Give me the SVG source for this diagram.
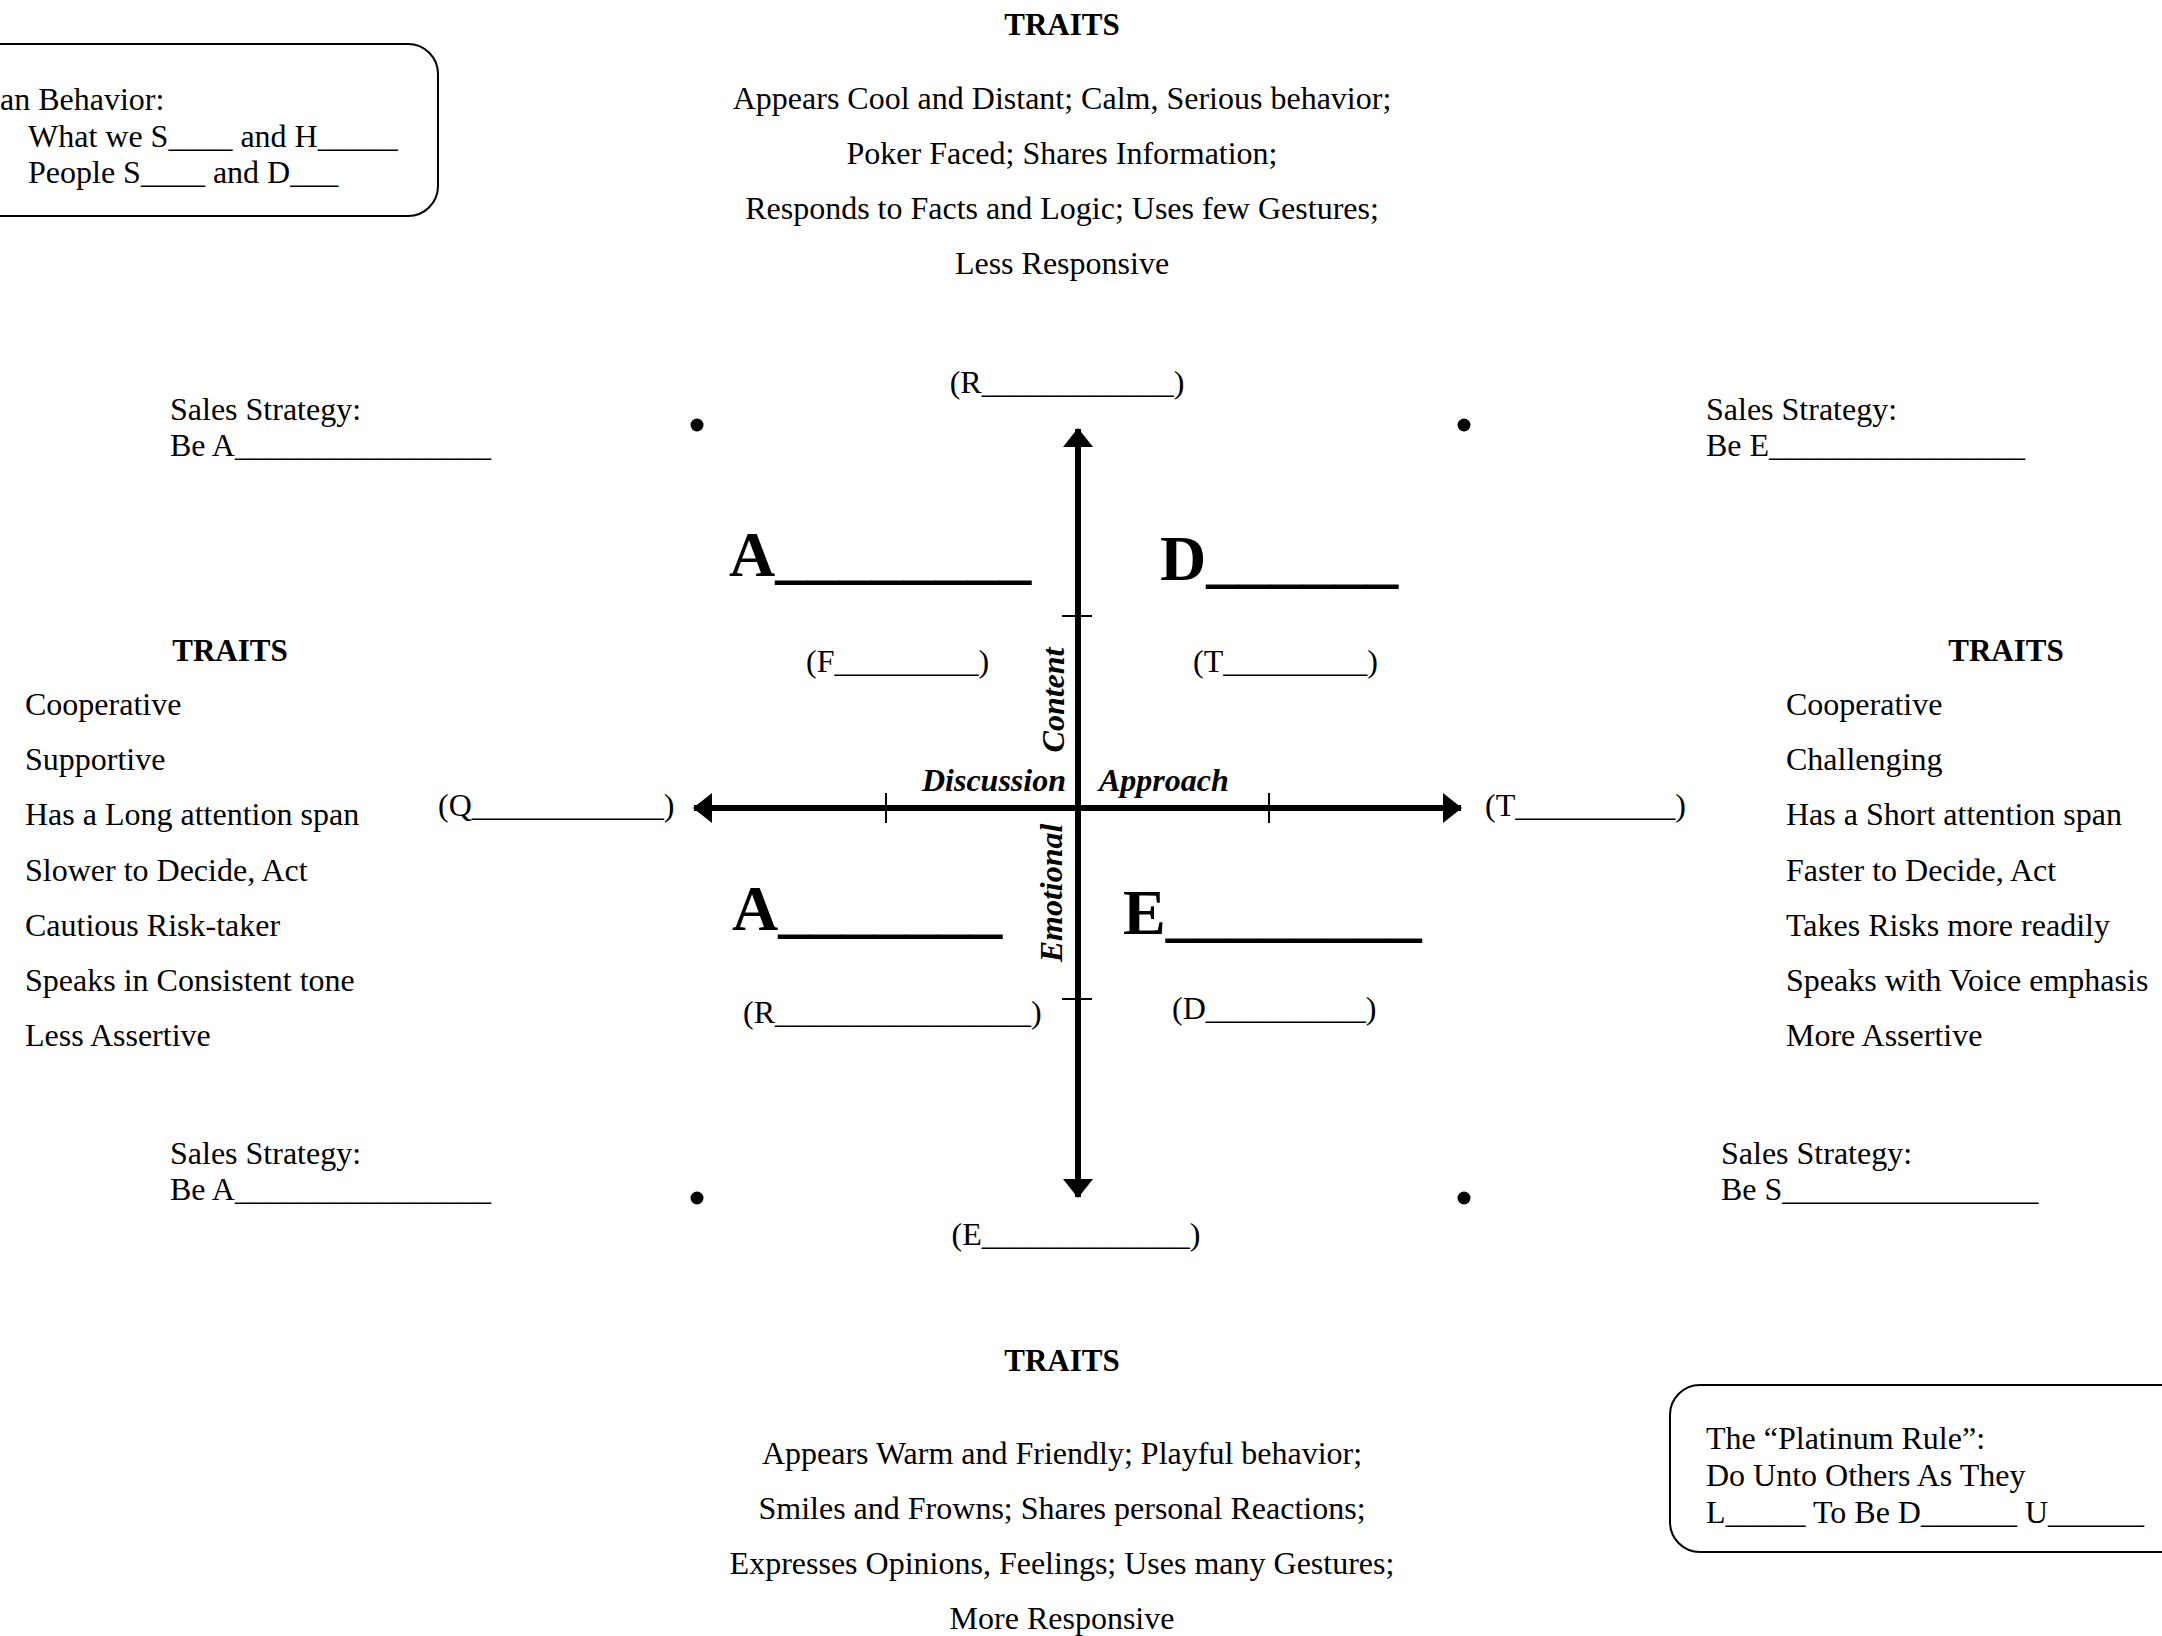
<svg xmlns="http://www.w3.org/2000/svg" width="2162" height="1636" viewBox="0 0 2162 1636">
<defs>
<style>
text{font-family:"Liberation Serif","Times New Roman",serif;fill:#000;}
.t{font-size:32px;}
.h{font-size:31px;font-weight:bold;}
.big{font-size:64px;font-weight:bold;}
.ax{font-size:32px;font-weight:bold;font-style:italic;}
.c{text-anchor:middle;}
.box{fill:none;stroke:#000;stroke-width:2;}
.axis{stroke:#000;stroke-width:6;fill:none;}
.tick{stroke:#000;stroke-width:2;}
</style>
<marker id="ah" viewBox="0 0 19 30" refX="18" refY="15" markerWidth="19" markerHeight="30" markerUnits="userSpaceOnUse" orient="auto">
<path d="M0,0 L19,15 L0,30 Z" fill="#000"/>
</marker>
</defs>
<rect width="2162" height="1636" fill="#fff"/>

<g id="behavior-box">
<rect class="box" x="-60" y="44" width="498" height="172" rx="30"/>
<text class="t" x="0" y="110">an Behavior:</text>
<text class="t" x="28" y="147">What we S____ and H_____</text>
<text class="t" x="28" y="183">People S____ and D___</text>
</g>

<g id="traits-top">
<text class="h c" x="1062" y="35">TRAITS</text>
<text class="t c" x="1062" y="109">Appears Cool and Distant; Calm, Serious behavior;</text>
<text class="t c" x="1062" y="164">Poker Faced; Shares Information;</text>
<text class="t c" x="1062" y="219">Responds to Facts and Logic; Uses few Gestures;</text>
<text class="t c" x="1062" y="274">Less Responsive</text>
</g>

<g id="strategy-tl">
<text class="t" x="170" y="420">Sales Strategy:</text>
<text class="t" x="170" y="456">Be A________________</text>
</g>
<g id="strategy-tr">
<text class="t" x="1706" y="420">Sales Strategy:</text>
<text class="t" x="1706" y="456">Be E________________</text>
</g>
<g id="strategy-bl">
<text class="t" x="170" y="1164">Sales Strategy:</text>
<text class="t" x="170" y="1200">Be A________________</text>
</g>
<g id="strategy-br">
<text class="t" x="1721" y="1164">Sales Strategy:</text>
<text class="t" x="1721" y="1200">Be S________________</text>
</g>

<g id="dots">
<circle cx="697" cy="425" r="6.5"/>
<circle cx="1464" cy="425" r="6.5"/>
<circle cx="697" cy="1198" r="6.5"/>
<circle cx="1464" cy="1198" r="6.5"/>
</g>

<g id="traits-left">
<text class="h c" x="230" y="661">TRAITS</text>
<text class="t" x="25" y="715">Cooperative</text>
<text class="t" x="25" y="770">Supportive</text>
<text class="t" x="25" y="825">Has a Long attention span</text>
<text class="t" x="25" y="881">Slower to Decide, Act</text>
<text class="t" x="25" y="936">Cautious Risk-taker</text>
<text class="t" x="25" y="991">Speaks in Consistent tone</text>
<text class="t" x="25" y="1046">Less Assertive</text>
</g>

<g id="traits-right">
<text class="h c" x="2006" y="661">TRAITS</text>
<text class="t" x="1786" y="715">Cooperative</text>
<text class="t" x="1786" y="770">Challenging</text>
<text class="t" x="1786" y="825">Has a Short attention span</text>
<text class="t" x="1786" y="881">Faster to Decide, Act</text>
<text class="t" x="1786" y="936">Takes Risks more readily</text>
<text class="t" x="1786" y="991">Speaks with Voice emphasis</text>
<text class="t" x="1786" y="1046">More Assertive</text>
</g>

<g id="connectors">
<line class="axis" x1="1078" y1="1195" x2="1078" y2="429" marker-end="url(#ah)"/>
<line class="axis" x1="1078" y1="431" x2="1078" y2="1197" marker-end="url(#ah)"/>
<line class="axis" x1="1459" y1="808" x2="694" y2="808" marker-end="url(#ah)"/>
<line class="axis" x1="696" y1="808" x2="1461" y2="808" marker-end="url(#ah)"/>
<line class="tick" x1="1062" y1="616" x2="1092" y2="616"/>
<line class="tick" x1="1062" y1="999" x2="1092" y2="999"/>
<line class="tick" x1="886" y1="793" x2="886" y2="823"/>
<line class="tick" x1="1269" y1="793" x2="1269" y2="823"/>
</g>

<g id="axis-labels">
<text class="t c" x="1067" y="393">(R____________)</text>
<text class="t" x="438" y="816">(Q____________)</text>
<text class="t" x="1485" y="816">(T__________)</text>
<text class="t c" x="1076" y="1245">(E_____________)</text>
<text class="ax" x="1066" y="791" text-anchor="end">Discussion</text>
<text class="ax" x="1099" y="791">Approach</text>
<text class="ax c" transform="translate(1064,700) rotate(-90)">Content</text>
<text class="ax c" transform="translate(1062,893) rotate(-90)">Emotional</text>
</g>

<g id="quad-tl">
<text class="big" x="729" y="576">A________</text>
<text class="t" x="806" y="672">(F_________)</text>
</g>
<g id="quad-tr">
<text class="big" x="1160" y="580">D______</text>
<text class="t" x="1193" y="672">(T_________)</text>
</g>
<g id="quad-bl">
<text class="big" x="732" y="930">A_______</text>
<text class="t" x="743" y="1023">(R________________)</text>
</g>
<g id="quad-br">
<text class="big" x="1123" y="934">E________</text>
<text class="t" x="1172" y="1019">(D__________)</text>
</g>

<g id="traits-bottom">
<text class="h c" x="1062" y="1371">TRAITS</text>
<text class="t c" x="1062" y="1464">Appears Warm and Friendly; Playful behavior;</text>
<text class="t c" x="1062" y="1519">Smiles and Frowns; Shares personal Reactions;</text>
<text class="t c" x="1062" y="1574">Expresses Opinions, Feelings; Uses many Gestures;</text>
<text class="t c" x="1062" y="1629">More Responsive</text>
</g>

<g id="platinum-box">
<rect class="box" x="1670" y="1385" width="560" height="167" rx="30"/>
<text class="t" x="1706" y="1449">The “Platinum Rule”:</text>
<text class="t" x="1706" y="1486">Do Unto Others As They</text>
<text class="t" x="1706" y="1523">L_____ To Be D______ U______</text>
</g>
</svg>
